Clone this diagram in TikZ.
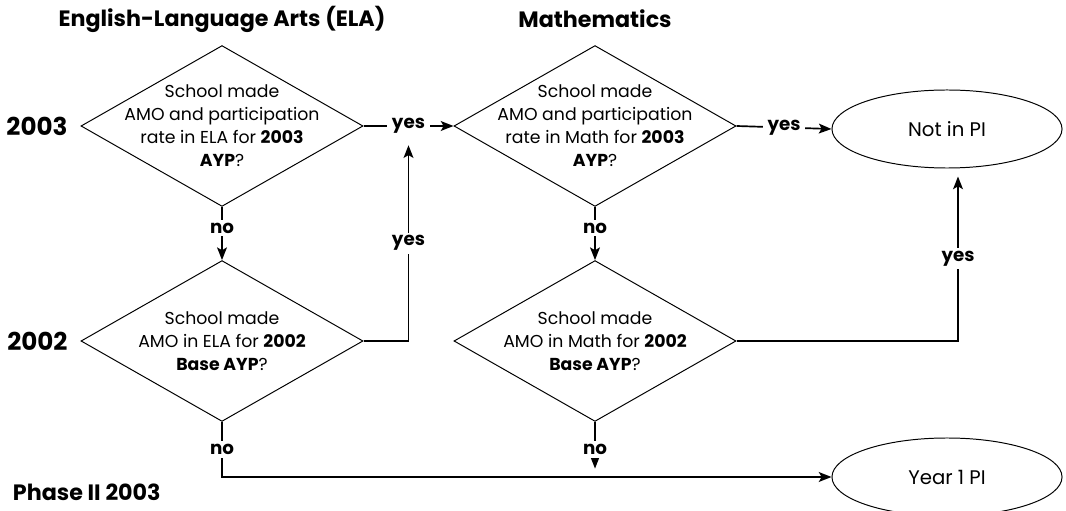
\documentclass[tikz,border=0pt]{standalone}
\usepackage{fontspec}
\setmainfont{Poppins}
\usetikzlibrary{arrows.meta,calc,positioning,shapes.geometric}

\tikzset{
	decision/.style={draw, diamond, line width=0.7pt, minimum width=7.05cm, minimum height=4.02cm, inner sep=0pt},
	terminal/.style={draw, ellipse, line width=0.7pt, minimum width=5.75cm, minimum height=1.95cm, font=\fontsize{14}{16}\selectfont},
	question/.style={align=center, font=\fontsize{12.3}{16.3}\selectfont},
	flow/.style={line width=1.2pt, -{Stealth[length=9pt,width=7pt,inset=2pt]}},
	answer/.style={fill=white, inner xsep=3.5pt, inner ysep=2pt, font=\bfseries\fontsize{13}{14}\selectfont},
	heading/.style={font=\bfseries\fontsize{15.8}{18}\selectfont},
	yearlabel/.style={font=\bfseries\fontsize{17.5}{18}\selectfont},
}

\begin{document}
\begin{tikzpicture}[x=0.025cm, y=-0.025cm]
	\useasboundingbox (0,0) rectangle (1066,511);

	% column headings
	\node[heading] (elahead) at (222,19) {English-Language Arts (ELA)};
	\node[heading] (mathhead) at (595,19) {Mathematics};

	% decisions for 2003
	\node[decision, label={[question]center:School made\\AMO and participation\\rate in ELA for \textbf{2003}\\\textbf{AYP}?}] (ela03) at (222,126) {};
	\node[decision, label={[question]center:School made\\AMO and participation\\rate in Math for \textbf{2003}\\\textbf{AYP}?}] (math03) at (595,126) {};

	% decisions for 2002
	\node[decision, label={[question]center:School made\\AMO in ELA for \textbf{2002}\\\textbf{Base AYP}?}] (ela02) at (222,341) {};
	\node[decision, label={[question]center:School made\\AMO in Math for \textbf{2002}\\\textbf{Base AYP}?}] (math02) at (595,341) {};

	% year labels
	\node[yearlabel, left=0.2cm of ela03.west] (y03) {2003};
	\node[yearlabel, left=0.2cm of ela02.west] (y02) {2002};

	% outcomes
	\node[terminal] (notpi) at (947,129) {Not in PI};
	\node[terminal] (year1) at (947,477) {Year 1 PI};

	% phase caption
	\node[heading, anchor=south west] (phase) at (8,506) {Phase II 2003};

	% connectors
	\draw[flow] (ela03.east) -- node[answer] (yesA) {yes} (math03.west);
	\draw[flow] (math03.east) -- node[answer] {yes} (notpi.west);
	\draw[flow] (ela03.south) -- node[answer, pos=0.4] {no} (ela02.north);
	\draw[flow] (math03.south) -- node[answer, pos=0.4] {no} (math02.north);
	\draw[flow] (ela02.east) -| node[answer, pos=0.75] {yes} ($(yesA.south)+(0,8)$);
	\draw[flow] (math02.east) -| node[answer, pos=0.75] {yes} ($(notpi.south)+(11,8)$);
	\draw[flow] (ela02.south) |- node[answer, pos=0.25] {no} (year1.west);
	\draw[flow, shorten >=6pt] (math02.south) -- node[answer] {no} (math02.south |- year1.west);
\end{tikzpicture}
\end{document}
